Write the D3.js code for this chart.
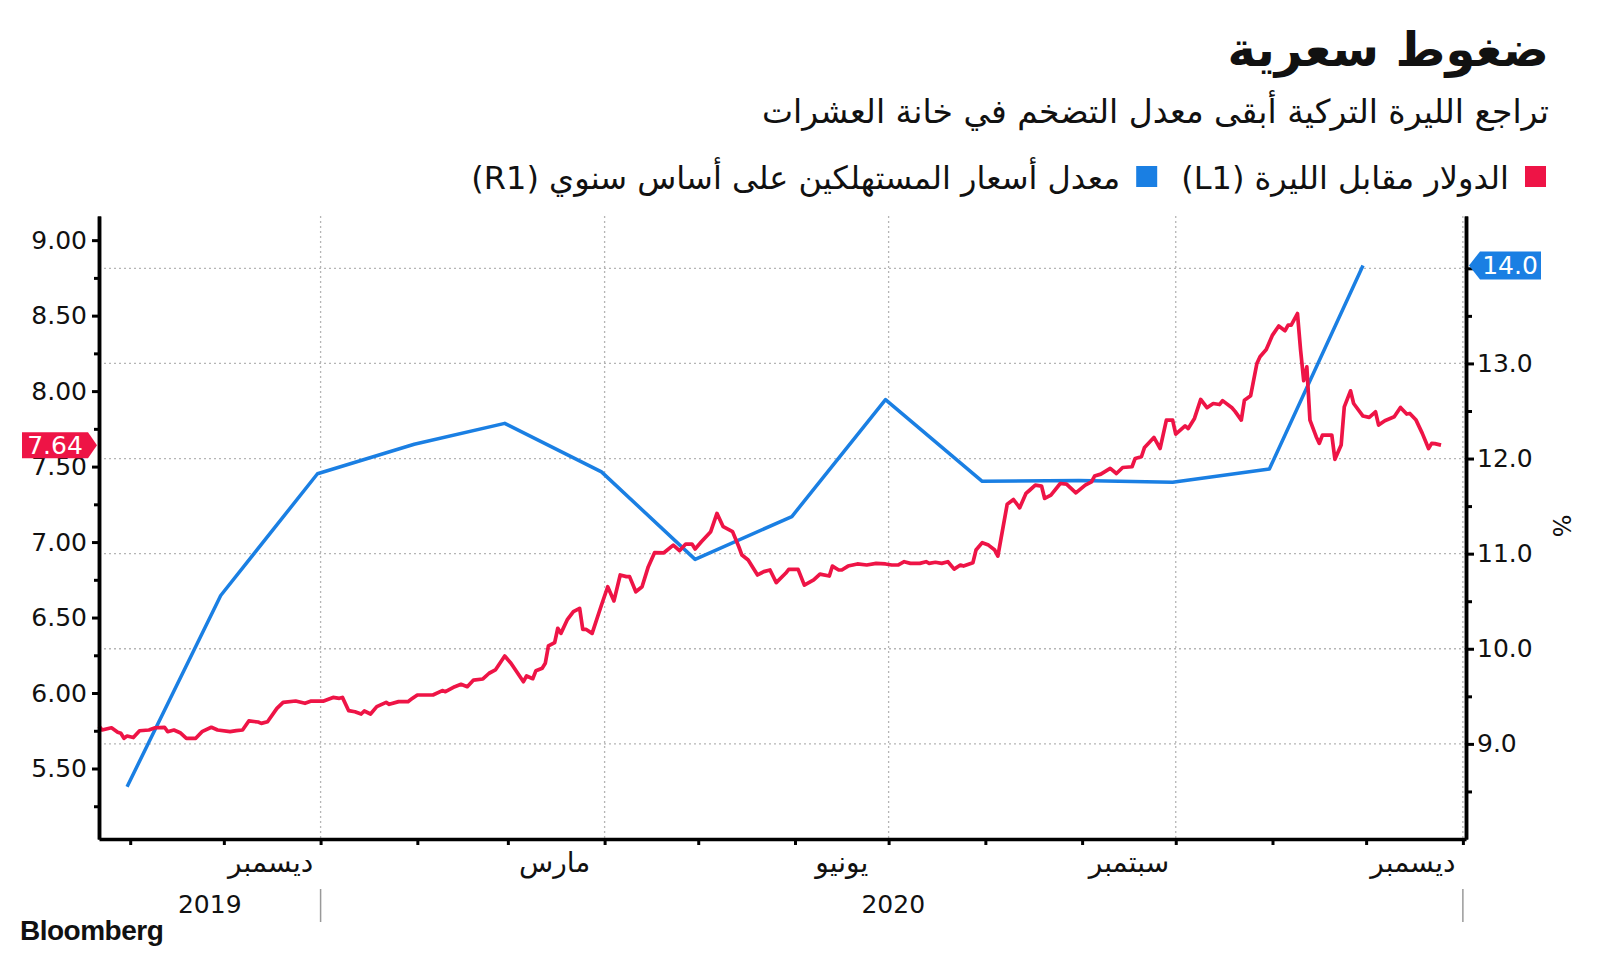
<!DOCTYPE html>
<html>
<head>
<meta charset="utf-8">
<script src="https://cdn.jsdelivr.net/npm/d3@7"></script>
<style>
  body { margin: 0; background: #fff; }
  text { font-family: "DejaVu Sans", sans-serif; fill: #111; }
</style>
</head>
<body>
<svg width="1600" height="958"></svg>
<script>
// USD/TRY (left axis)
const usdDates = [
  "2019-10-22","2019-10-23","2019-10-26","2019-10-28","2019-10-29","2019-10-30","2019-10-31","2019-11-02","2019-11-04","2019-11-07",
  "2019-11-09","2019-11-12","2019-11-13","2019-11-15","2019-11-17","2019-11-19","2019-11-22","2019-11-24","2019-11-27","2019-11-29",
  "2019-12-03","2019-12-05","2019-12-07","2019-12-09","2019-12-12","2019-12-13","2019-12-15","2019-12-18","2019-12-20","2019-12-24",
  "2019-12-27","2019-12-29","2020-01-02","2020-01-05","2020-01-07","2020-01-08","2020-01-10","2020-01-12","2020-01-14","2020-01-15",
  "2020-01-17","2020-01-19","2020-01-22","2020-01-23","2020-01-26","2020-01-29","2020-01-30","2020-02-01","2020-02-06","2020-02-09",
  "2020-02-10","2020-02-13","2020-02-15","2020-02-17","2020-02-19","2020-02-22","2020-02-24","2020-02-26","2020-02-29","2020-03-02",
  "2020-03-06","2020-03-07","2020-03-09","2020-03-10","2020-03-12","2020-03-13","2020-03-14","2020-03-16","2020-03-17","2020-03-18",
  "2020-03-20","2020-03-22","2020-03-24","2020-03-25","2020-03-26","2020-03-28","2020-03-31","2020-04-02","2020-04-04","2020-04-06",
  "2020-04-08","2020-04-09","2020-04-11","2020-04-13","2020-04-15","2020-04-17","2020-04-20","2020-04-23","2020-04-25","2020-04-27",
  "2020-04-29","2020-04-30","2020-05-02","2020-05-05","2020-05-07","2020-05-09","2020-05-12","2020-05-14","2020-05-15","2020-05-17",
  "2020-05-20","2020-05-22","2020-05-24","2020-05-26","2020-05-29","2020-05-30","2020-06-02","2020-06-04","2020-06-07","2020-06-09",
  "2020-06-12","2020-06-13","2020-06-15","2020-06-16","2020-06-18","2020-06-21","2020-06-24","2020-06-27","2020-06-30","2020-07-02",
  "2020-07-04","2020-07-06","2020-07-08","2020-07-11","2020-07-13","2020-07-14","2020-07-16","2020-07-18","2020-07-20","2020-07-22",
  "2020-07-24","2020-07-25","2020-07-28","2020-07-29","2020-07-31","2020-08-02","2020-08-04","2020-08-05","2020-08-08","2020-08-10",
  "2020-08-12","2020-08-14","2020-08-15","2020-08-17","2020-08-19","2020-08-20","2020-08-22","2020-08-25","2020-08-27","2020-08-30",
  "2020-09-02","2020-09-04","2020-09-05","2020-09-07","2020-09-10","2020-09-12","2020-09-14","2020-09-17","2020-09-18","2020-09-20",
  "2020-09-21","2020-09-24","2020-09-26","2020-09-28","2020-09-30","2020-10-01","2020-10-04","2020-10-05","2020-10-07","2020-10-09",
  "2020-10-11","2020-10-13","2020-10-15","2020-10-16","2020-10-19","2020-10-20","2020-10-22","2020-10-23","2020-10-25","2020-10-27",
  "2020-10-28","2020-10-30","2020-11-01","2020-11-03","2020-11-05","2020-11-06","2020-11-07","2020-11-09","2020-11-10","2020-11-11",
  "2020-11-12","2020-11-13","2020-11-15","2020-11-16","2020-11-17","2020-11-20","2020-11-21","2020-11-23","2020-11-24","2020-11-26",
  "2020-11-27","2020-11-30","2020-12-02","2020-12-04","2020-12-05","2020-12-07","2020-12-10","2020-12-12","2020-12-14","2020-12-15",
  "2020-12-17","2020-12-19","2020-12-21","2020-12-22","2020-12-23","2020-12-25"
];
const usdValues = [
  5.78,5.755,5.77,5.74,5.733,5.70,5.715,5.705,5.75,5.755,
  5.77,5.773,5.744,5.755,5.737,5.70,5.70,5.744,5.773,5.755,
  5.744,5.751,5.755,5.815,5.808,5.799,5.81,5.898,5.938,5.947,
  5.932,5.947,5.947,5.971,5.965,5.971,5.883,5.876,5.861,5.881,
  5.861,5.91,5.938,5.925,5.943,5.943,5.958,5.987,5.987,6.016,
  6.009,6.042,6.058,6.042,6.086,6.093,6.131,6.153,6.245,6.197,
  6.075,6.113,6.095,6.148,6.164,6.197,6.312,6.334,6.429,6.395,
  6.484,6.539,6.561,6.422,6.422,6.395,6.583,6.704,6.61,6.782,
  6.771,6.771,6.671,6.704,6.837,6.93,6.929,6.98,6.943,6.987,
  6.987,6.954,7.002,7.069,7.19,7.102,7.069,6.969,6.914,6.881,
  6.782,6.804,6.815,6.731,6.793,6.819,6.819,6.715,6.749,6.788,
  6.775,6.841,6.815,6.815,6.841,6.855,6.848,6.859,6.855,6.848,
  6.848,6.87,6.859,6.859,6.87,6.859,6.866,6.859,6.87,6.821,
  6.848,6.841,6.863,6.947,6.996,6.98,6.947,6.907,7.251,7.282,
  7.227,7.322,7.34,7.377,7.371,7.289,7.311,7.388,7.384,7.326,
  7.377,7.399,7.437,7.45,7.488,7.454,7.494,7.499,7.554,7.565,
  7.627,7.693,7.62,7.808,7.808,7.715,7.77,7.752,7.819,7.945,
  7.89,7.918,7.911,7.937,7.89,7.866,7.808,7.94,7.97,8.183,
  8.228,8.276,8.371,8.431,8.40,8.437,8.437,8.514,8.272,8.069,
  8.161,7.808,7.698,7.654,7.709,7.709,7.548,7.643,7.896,8.002,
  7.918,7.835,7.826,7.863,7.775,7.804,7.83,7.892,7.848,7.852,
  7.808,7.72,7.62,7.654,7.652,7.642
];

// Turkey CPI YoY % (right axis), monthly
const cpiDates = ["2019-10-31","2019-11-30","2019-12-31","2020-01-31","2020-02-29","2020-03-31","2020-04-30",
                  "2020-05-31","2020-06-30","2020-07-31","2020-08-31","2020-09-30","2020-10-31","2020-11-30"];
const cpiValues = [8.55,10.56,11.84,12.15,12.37,11.86,10.94,11.39,12.62,11.76,11.77,11.75,11.89,14.03];

const leftTicks = [5.5,6.0,6.5,7.0,7.5,8.0,8.5,9.0];
const leftMinor = [5.25,5.75,6.25,6.75,7.25,7.75,8.25,8.75];
const rightTicks = [9,10,11,12,13,14];
const rightMinor = [8.5,9.5,10.5,11.5,12.5,13.5];
const gridDates = ["2020-01-01","2020-04-01","2020-07-01","2020-10-01","2021-01-01"];
const monthLabels = ["ديسمبر","مارس","يونيو","سبتمبر","ديسمبر"];
const monthLabelDates = ["2019-12-16","2020-03-16","2020-06-16","2020-09-16","2020-12-16"];
const yearLabels = ["2019","2020"];
const yearStarts = ["2019-10-22","2020-01-01","2021-01-02"];

const parse = d3.timeParse("%Y-%m-%d");
const red = "#ee1446", blue = "#1a7fe3";

const svg = d3.select("svg");

const x = d3.scaleTime()
  .domain([parse("2019-10-22"), parse("2021-01-02")])
  .range([99, 1466]);
const yL = d3.scaleLinear().domain([5.033, 9.16]).range([839, 216]);
const yR = d3.scaleLinear().domain([8.0, 14.55]).range([839, 216]);

// titles
svg.append("text").attr("x", 1549).attr("y", 66)
  .attr("direction", "rtl").attr("text-anchor", "start")
  .style("font-size", "48px").style("font-weight", "bold")
  .text("ضغوط سعرية");
svg.append("text").attr("x", 1549).attr("y", 123)
  .attr("direction", "rtl").attr("text-anchor", "start")
  .style("font-size", "33px")
  .text("تراجع الليرة التركية أبقى معدل التضخم في خانة العشرات");

// legend
const legendItems = [
  { label: "الدولار مقابل الليرة (L1)", color: red },
  { label: "معدل أسعار المستهلكين على أساس سنوي (R1)", color: blue }
];
let lx = 1546;
legendItems.forEach(item => {
  svg.append("rect").attr("x", lx - 21).attr("y", 166).attr("width", 21).attr("height", 21).attr("fill", item.color);
  const t = svg.append("text").attr("x", lx - 37).attr("y", 189)
    .attr("direction", "rtl").attr("text-anchor", "start")
    .style("font-size", "32px").text(item.label);
  lx = lx - 37 - t.node().getComputedTextLength() - 24;
});

// grid
const grid = svg.append("g").attr("stroke", "#b5b5b5").attr("stroke-width", 1.3).attr("stroke-dasharray", "2,3");
grid.selectAll(".h").data(rightTicks).enter().append("line")
  .attr("x1", 99).attr("x2", 1466).attr("y1", d => yR(d)).attr("y2", d => yR(d));
grid.selectAll(".v").data(gridDates).enter().append("line")
  .attr("x1", d => x(parse(d))).attr("x2", d => x(parse(d))).attr("y1", 216).attr("y2", 839);

// lines
const usd = usdDates.map((d, i) => ({ date: parse(d), value: usdValues[i] }));
const cpi = cpiDates.map((d, i) => ({ date: parse(d), value: cpiValues[i] }));

svg.append("path").datum(cpi)
  .attr("fill", "none").attr("stroke", blue).attr("stroke-width", 3.5).attr("stroke-linejoin", "round")
  .attr("d", d3.line().x(d => x(d.date)).y(d => yR(d.value)));
svg.append("path").datum(usd)
  .attr("fill", "none").attr("stroke", red).attr("stroke-width", 3.7).attr("stroke-linejoin", "round")
  .attr("d", d3.line().x(d => x(d.date)).y(d => yL(d.value)));

// axes
function styleAxis(g) {
  g.select(".domain").attr("stroke", "#000").attr("stroke-width", 3.5);
  g.selectAll(".tick line").attr("stroke", "#000").attr("stroke-width", 3);
  g.selectAll(".tick text").attr("fill", "#111").style("font-size", "25px").style("font-family", "DejaVu Sans");
}
const lastCpiValue = cpiValues[cpiValues.length - 1];
svg.append("g").attr("transform", "translate(99,0)")
  .call(d3.axisLeft(yL).tickValues(leftMinor).tickFormat("").tickSize(5).tickSizeOuter(0)).call(styleAxis);
svg.append("g").attr("transform", "translate(99,0)")
  .call(d3.axisLeft(yL).tickValues(leftTicks).tickFormat(d3.format(".2f")).tickSize(7).tickPadding(5).tickSizeOuter(0)).call(styleAxis);
svg.append("g").attr("transform", "translate(1466,0)")
  .call(d3.axisRight(yR).tickValues(rightMinor).tickFormat("").tickSize(6).tickSizeOuter(0)).call(styleAxis);
// the last-value tag covers the top label on the right, so that label is left out
svg.append("g").attr("transform", "translate(1466,0)")
  .call(d3.axisRight(yR).tickValues(rightTicks)
    .tickFormat(d => Math.abs(d - lastCpiValue) < 0.3 ? "" : d3.format(".1f")(d))
    .tickSize(8).tickPadding(3).tickSizeOuter(0)).call(styleAxis);
svg.append("g").attr("transform", "translate(0,839)")
  .call(d3.axisBottom(x).ticks(d3.timeMonth.every(1)).tickFormat("").tickSize(6).tickSizeOuter(0)).call(styleAxis);

// month labels
svg.selectAll(".month").data(monthLabels).enter().append("text")
  .attr("x", (d, i) => x(parse(monthLabelDates[i]))).attr("y", 872)
  .attr("text-anchor", "middle").style("font-size", "28px").text(d => d);

// year labels and separators
svg.selectAll(".year").data(yearLabels).enter().append("text")
  .attr("x", (d, i) => (x(parse(yearStarts[i])) + x(parse(yearStarts[i + 1]))) / 2).attr("y", 913)
  .attr("text-anchor", "middle").style("font-size", "25px").text(d => d);
svg.selectAll(".sep").data(gridDates.filter(d => d.endsWith("01-01"))).enter().append("line")
  .attr("x1", d => x(parse(d))).attr("x2", d => x(parse(d))).attr("y1", 889).attr("y2", 922)
  .attr("stroke", "#999").attr("stroke-width", 1.5);

// unit label
svg.append("text").attr("transform", "translate(1553,526) rotate(90)")
  .attr("text-anchor", "middle").style("font-size", "24px").text("%");

// last value tags
const lastUsd = usd[usd.length - 1], lastCpi = cpi[cpi.length - 1];
const ty1 = yL(lastUsd.value);
svg.append("path").attr("fill", red)
  .attr("d", `M22,${ty1 - 13}H88L97,${ty1}L88,${ty1 + 13}H22Z`);
svg.append("text").attr("x", 55).attr("y", ty1 + 9).attr("text-anchor", "middle")
  .style("fill", "#fff").style("font-size", "25px").text(d3.format(".2f")(lastUsd.value));
const ty2 = yR(lastCpi.value);
svg.append("path").attr("fill", blue)
  .attr("d", `M1469,${ty2}L1480,${ty2 - 14}H1541V${ty2 + 14}H1480Z`);
svg.append("text").attr("x", 1510).attr("y", ty2 + 9).attr("text-anchor", "middle")
  .style("fill", "#fff").style("font-size", "25px").text(d3.format(".1f")(lastCpi.value));

// source
svg.append("text").attr("x", 20).attr("y", 940)
  .style("font-family", "Liberation Sans").style("font-weight", "bold").style("font-size", "28px")
  .style("letter-spacing", "-0.5px").text("Bloomberg");
</script>
</body>
</html>
